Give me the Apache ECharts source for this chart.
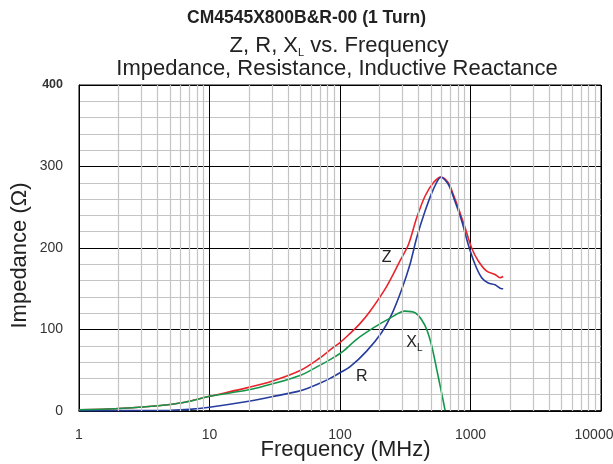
<!DOCTYPE html>
<html><head><meta charset="utf-8">
<script src="https://cdn.jsdelivr.net/npm/echarts@6/dist/echarts.min.js"></script>
<style>html,body{margin:0;padding:0;background:#fff}#c{width:613px;height:464px}</style>
</head><body><div id="c"></div>
<script>
// Data (frequency in MHz, impedance in ohms)
const zFreq = [1, 2, 5, 7, 10, 20, 30, 50, 70, 84, 100, 119, 140, 170, 228, 290, 334, 387, 448, 519, 594, 676, 738, 807, 908, 1021, 1148, 1331, 1541, 1683, 1780];
const zVals = [1.5, 3, 8, 12, 18, 29, 36.5, 50, 65, 75, 84, 95, 106, 122.5, 153, 185, 204, 237, 263.5, 280, 287, 280, 265.5, 249, 225, 200, 184, 171.5, 167.5, 163.5, 165];
const rFreq = [1, 2, 5, 7, 10, 20, 30, 50, 70, 84, 100, 119, 160, 208, 249, 297, 344, 387, 448, 519, 594, 676, 761, 857, 962, 1082, 1218, 1368, 1541, 1734, 1780];
const rVals = [0.3, 0.5, 1, 2, 4.7, 12, 17.4, 25, 34, 40, 47, 54, 73.5, 96, 118.5, 149, 180, 212.5, 245, 272, 287, 278, 257, 233, 204, 180, 163.5, 157, 155, 150, 150];
const xFreq = [1, 2, 5, 7, 10, 20, 30, 50, 70, 84, 106, 134, 180, 242, 314, 376, 422, 462, 505, 551, 601, 638];
const xVals = [1.5, 3, 8, 12, 18, 26, 33, 44, 56, 63, 73.5, 88, 102, 114, 122.5, 120.5, 112, 100, 79.5, 51, 22, 1];
const xTickLabels = [1, 10, 100, 1000, 10000];
const minorFreqs = [2,3,4,5,6,7,8,9,20,30,40,50,60,70,80,90,200,300,400,500,600,700,800,900,2000,3000,4000,5000,6000,7000,8000,9000];
const curveLabels = [
  {name: 'Z', f: 228, v: 188},
  {name: 'R', f: 147, v: 42.5},
  {name: 'X{s|L}', f: 372, v: 84}
];

const pairs = (fs, vs) => fs.map((f, i) => [f, vs[i]]);
const chart = echarts.init(document.getElementById('c'), null, {renderer: 'canvas'});
const font = 'Liberation Sans, Arial, sans-serif';
chart.setOption({
  animation: false,
  backgroundColor: '#fff',
  textStyle: {fontFamily: font},
  title: [
    {text: 'CM4545X800B&R-00 (1 Turn)', left: 'center', top: 4,
     textStyle: {fontFamily: font, fontSize: 17.5, fontWeight: 'bold', color: '#222'}},
    {text: 'Z, R, X{s|L} vs. Frequency', left: 334, textAlign: 'center', top: 28,
     textStyle: {fontFamily: font, fontSize: 22, fontWeight: 'normal', color: '#222',
       rich: {s: {fontFamily: font, fontSize: 11, color: '#222', padding: [14, 0, 0, 0]}}}},
    {text: 'Impedance, Resistance, Inductive Reactance', left: 332, textAlign: 'center', top: 53,
     textStyle: {fontFamily: font, fontSize: 22, fontWeight: 'normal', color: '#222'}}
  ],
  grid: {left: 79, right: 12, top: 85, bottom: 53, show: true, borderColor: '#000', borderWidth: 1,
         outerBoundsMode: 'none', containLabel: false},
  xAxis: {
    type: 'log', logBase: 10, min: 1, max: 10000,
    name: 'Frequency (MHz)', nameLocation: 'middle', nameGap: 28, nameMoveOverlap: false,
    nameTextStyle: {fontFamily: font, fontSize: 22, color: '#222', padding: [0, 0, 0, 11]},
    axisLine: {lineStyle: {color: '#000', width: 1.5}},
    axisTick: {show: false},
    axisLabel: {margin: 17, fontSize: 14, color: '#333', fontFamily: font,
      formatter: v => {
        const r = Math.round(v);
        if (!xTickLabels.includes(r)) return '';
        return r === 10000 ? '{r|10000}' : String(r);
      },
      rich: {r: {fontSize: 14, color: '#333', fontFamily: font, padding: [0, 14, 0, 0]}}},
    splitLine: {show: true, lineStyle: {color: '#000', width: 1}}
  },
  yAxis: {
    type: 'value', min: 0, max: 400, interval: 100,
    name: 'Impedance (\u03A9)', nameLocation: 'middle', nameGap: 48, nameRotate: 90, nameMoveOverlap: false,
    nameTextStyle: {fontFamily: font, fontSize: 22, color: '#222', padding: [0, 15, 0, 0]},
    axisLine: {show: true, lineStyle: {color: '#000'}},
    axisTick: {show: false},
    axisLabel: {margin: 16, fontSize: 14, color: '#333', fontFamily: font,
      formatter: v => v === 400 ? '{b|400}' : String(v),
      rich: {b: {fontSize: 12.5, fontWeight: 'bold', color: '#333', fontFamily: font}}},
    splitLine: {show: true, lineStyle: {color: '#000', width: 1}},
    minorTick: {show: false, splitNumber: 5},
    minorSplitLine: {show: true, lineStyle: {color: '#c4c4c4', width: 1.2}}
  },
  series: [
    {type: 'line', data: [], z: 1, silent: true,
     markLine: {silent: true, symbol: 'none', label: {show: false},
       lineStyle: {color: '#c4c4c4', width: 1.2, type: 'solid'},
       data: minorFreqs.map(f => ({xAxis: f}))}},
    {name: 'Z', type: 'line', data: pairs(zFreq, zVals), showSymbol: false, z: 3, smooth: 0.3,
     lineStyle: {color: '#e8242c', width: 1.6}, itemStyle: {color: '#e8242c'}},
    {name: 'R', type: 'line', data: pairs(rFreq, rVals), showSymbol: false, z: 3, smooth: 0.3,
     lineStyle: {color: '#263c9c', width: 1.6}, itemStyle: {color: '#263c9c'}},
    {name: 'XL', type: 'line', data: pairs(xFreq, xVals), showSymbol: false, z: 3, smooth: 0.3,
     lineStyle: {color: '#14964a', width: 1.6}, itemStyle: {color: '#14964a'},
     markPoint: {symbol: 'circle', symbolSize: 0, silent: true,
       label: {show: true, position: 'inside', fontFamily: font, fontSize: 16, color: '#222',
         formatter: p => p.name,
         rich: {s: {fontFamily: font, fontSize: 10, color: '#222', padding: [12, 0, 0, 0]}}},
       data: curveLabels.map(c => ({name: c.name, coord: [c.f, c.v]}))}}
  ]
});
</script></body></html>
